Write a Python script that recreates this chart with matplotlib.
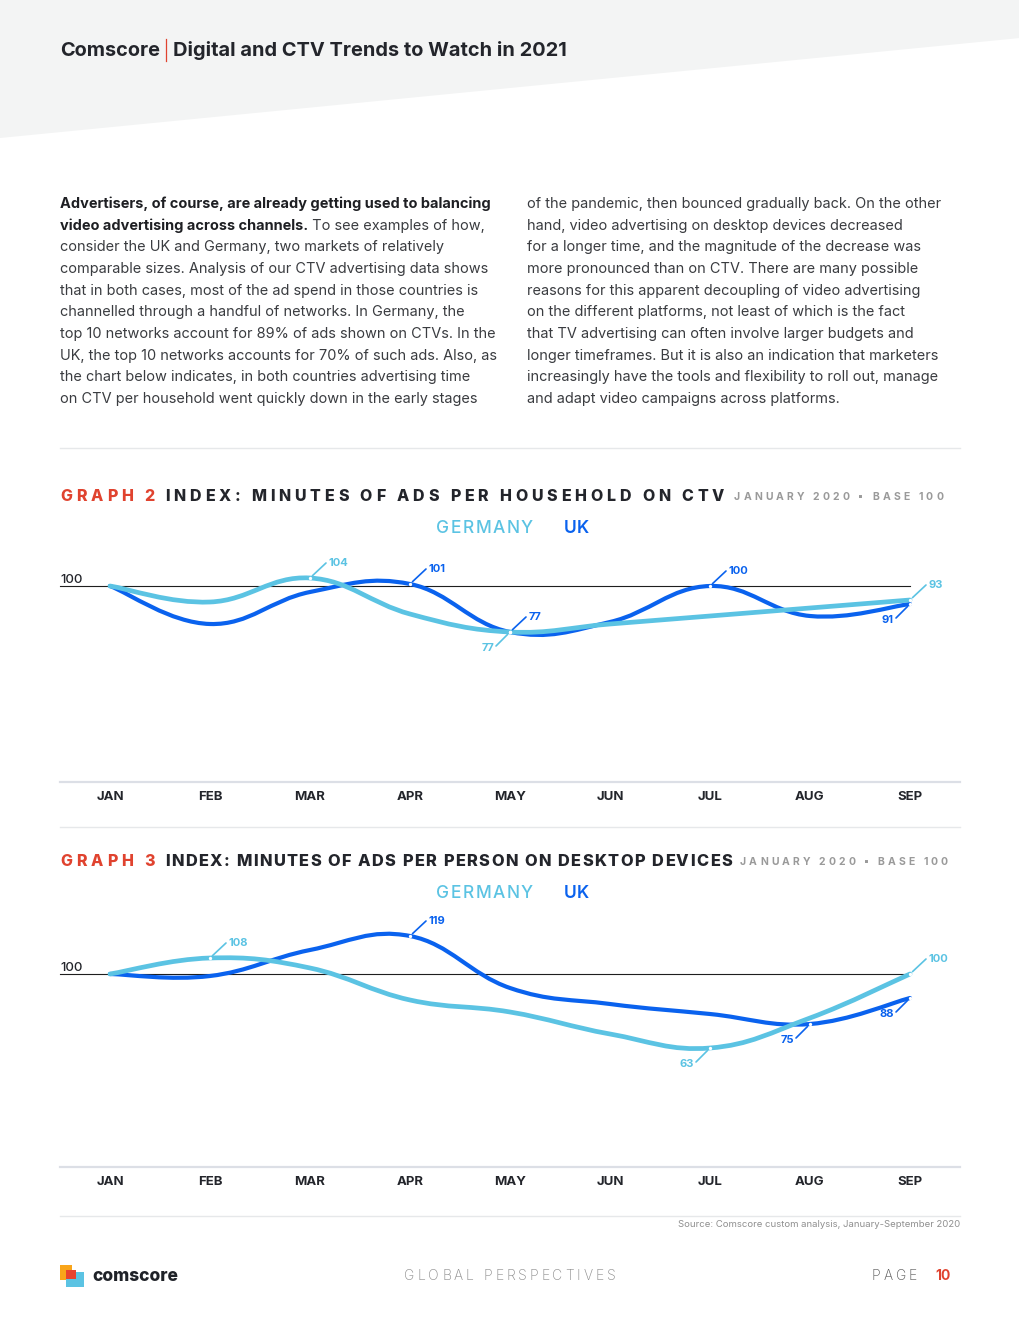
import matplotlib
matplotlib.use("Agg")
import matplotlib.pyplot as plt
from matplotlib.path import Path
from matplotlib.patches import PathPatch, Polygon, Rectangle
from matplotlib.lines import Line2D
import numpy as np

# ---------------- data ----------------
months = ["JAN", "FEB", "MAR", "APR", "MAY", "JUN", "JUL", "AUG", "SEP"]
ctv_germany = [100, 92, 104, 86, 77, 81, 85, 89, 93]
ctv_uk = [100, 81, 97, 101, 77, 82, 100, 85, 91]
desk_germany = [100, 108, 103, 87, 81, 70, 63, 78, 100]
desk_uk = [100, 99, 112, 119, 93, 85, 80, 75, 88]
# labelled points (month index, label side)
ctv_germany_labels = [(2, "up"), (4, "down"), (8, "up")]
ctv_uk_labels = [(3, "up"), (4, "up"), (6, "up"), (8, "down")]
desk_germany_labels = [(1, "up"), (6, "down"), (8, "up")]
desk_uk_labels = [(3, "up"), (7, "down"), (8, "down")]

left_col = [
    "Advertisers, of course, are already getting used to balancing",
    None,
    "consider the UK and Germany, two markets of relatively",
    "comparable sizes. Analysis of our CTV advertising data shows",
    "that in both cases, most of the ad spend in those countries is",
    "channelled through a handful of networks. In Germany, the",
    "top 10 networks account for 89% of ads shown on CTVs. In the",
    "UK, the top 10 networks accounts for 70% of such ads. Also, as",
    "the chart below indicates, in both countries advertising time",
    "on CTV per household went quickly down in the early stages",
]
left_line2_bold = "video advertising across channels."
left_line2_reg = " To see examples of how,"
right_col = [
    "of the pandemic, then bounced gradually back. On the other",
    "hand, video advertising on desktop devices decreased",
    "for a longer time, and the magnitude of the decrease was",
    "more pronounced than on CTV. There are many possible",
    "reasons for this apparent decoupling of video advertising",
    "on the different platforms, not least of which is the fact",
    "that TV advertising can often involve larger budgets and",
    "longer timeframes. But it is also an indication that marketers",
    "increasingly have the tools and flexibility to roll out, manage",
    "and adapt video campaigns across platforms.",
]

# ---------------- style ----------------
GER = "#5BC3E3"
UKC = "#0A62EE"
RED = "#E0432F"
DARK = "#23252B"
BODY = "#3A3C40"
GRAY = "#9A9A9A"
FONT = ["Inter", "DejaVu Sans"]

W, H = 1020, 1320
fig = plt.figure(figsize=(W / 100, H / 100), dpi=100)
fig.patch.set_facecolor("white")
R = fig.canvas.get_renderer()
PT = 0.72  # points per pixel at 100 dpi


def fx(x):
    return x / W


def fy(y):
    return 1 - y / H


def text_w(s, **kw):
    t = fig.text(0, 0, s, **kw)
    w = t.get_window_extent(R).width
    t.remove()
    return w


def put(x, y, s, ha="left", **kw):
    kw.setdefault("family", FONT)
    return fig.text(fx(x), fy(y), s, ha=ha, va="baseline", **kw)


def fit_size(s, target, size0=10, **kw):
    kw.setdefault("family", FONT)
    return size0 * target / text_w(s, fontsize=size0, **kw)


def spaced(x, y, s, width=None, track=0.0, ha="left", **kw):
    kw.setdefault("family", FONT)
    base = text_w("HH", **kw)
    advs = [text_w("H" + c + "H", **kw) - base for c in s]
    last = text_w(s[-1], **kw)
    nat = sum(advs[:-1]) + last
    if width is not None and len(s) > 1:
        track = (width - nat) / (len(s) - 1)
    total = nat + track * (len(s) - 1)
    if ha == "center":
        x -= total / 2
    elif ha == "right":
        x -= total
    cx = x
    for c, a in zip(s, advs):
        if c != " ":
            put(cx, y, c, **kw)
        cx += a + track
    return x + total


def hline(y, x0, x1, color, lw):
    fig.add_artist(Line2D([fx(x0), fx(x1)], [fy(y), fy(y)], color=color, lw=lw,
                          transform=fig.transFigure))


# ---------------- header banner ----------------
fig.add_artist(Polygon([[0, 1], [1, 1], [1, fy(38)], [0, fy(138)]], closed=True,
                       facecolor="#F3F4F4", edgecolor="none", transform=fig.transFigure,
                       zorder=0))
hs = fit_size("Digital and CTV Trends to Watch in 2021", 393, weight="bold")
put(60, 56, "Comscore", fontsize=hs, weight="bold", color=DARK)
xe = 60 + text_w("Comscore", fontsize=hs, weight="bold", family=FONT)
fig.add_artist(Line2D([fx(xe + 6), fx(xe + 6)], [fy(39), fy(61)], color=RED, lw=0.9,
                      transform=fig.transFigure))
put(xe + 13, 56, "Digital and CTV Trends to Watch in 2021", fontsize=hs, weight="bold",
    color=DARK)

# ---------------- body text ----------------
bs = fit_size("comparable sizes. Analysis of our CTV advertising data shows", 430)
y0, dy = 208, 21.67
for k, line in enumerate(left_col):
    y = y0 + k * dy
    if k == 0:
        put(60, y, line, fontsize=bs, weight="bold", color="#1E1F23")
    elif k == 1:
        put(60, y, left_line2_bold, fontsize=bs, weight="bold", color="#1E1F23")
        wb = text_w(left_line2_bold, fontsize=bs, weight="bold", family=FONT)
        put(60 + wb, y, left_line2_reg, fontsize=bs, color=BODY)
    else:
        put(60, y, line, fontsize=bs, color=BODY)
for k, line in enumerate(right_col):
    put(527, y0 + k * dy, line, fontsize=bs, color=BODY)

hline(448, 60, 960, "#E6E8EA", 1.0)
hline(827, 60, 960, "#E6E8EA", 1.0)
hline(1216, 60, 960, "#E6E8EA", 1.0)

# ---------------- graph titles ----------------
TS = 11.5
spaced(60, 501, "GRAPH 2", width=95, fontsize=TS, weight="heavy", color=RED)
spaced(165, 501, "INDEX: MINUTES OF ADS PER HOUSEHOLD ON CTV", width=559, fontsize=TS,
       weight="heavy", color=DARK)
spaced(734, 500, "JANUARY 2020 \u25aa BASE 100", width=209, fontsize=7.5, weight="bold",
       color=GRAY)
spaced(60, 866, "GRAPH 3", width=95, fontsize=TS, weight="heavy", color=RED)
spaced(165, 866, "INDEX: MINUTES OF ADS PER PERSON ON DESKTOP DEVICES", width=567,
       fontsize=TS + 0.3, weight="heavy", color=DARK)
spaced(740, 865, "JANUARY 2020 \u25aa BASE 100", width=208, fontsize=7.5, weight="bold",
       color=GRAY)

for ly in (533, 898):
    spaced(436, ly, "GERMANY", width=97, fontsize=12.5, weight="medium", color=GER)
    spaced(564, ly, "UK", width=25, fontsize=12.5, weight="semibold", color=UKC)


# ---------------- charts ----------------
def smooth_path(xs, ys, t=0.2):
    pts = np.column_stack([xs, ys]).astype(float)
    n = len(pts)
    verts = [pts[0]]
    codes = [Path.MOVETO]
    for i in range(n - 1):
        p0 = pts[max(i - 1, 0)]
        p1 = pts[i]
        p2 = pts[i + 1]
        p3 = pts[min(i + 2, n - 1)]
        verts += [p1 + (p2 - p0) * t, p2 - (p3 - p1) * t, p2]
        codes += [Path.CURVE4] * 3
    return Path(verts, codes)


def draw_series(ax, vals, color, lw, z):
    xs = np.arange(len(vals))
    ax.add_patch(PathPatch(smooth_path(xs, vals), facecolor="none", edgecolor=color,
                           lw=lw, capstyle="round", joinstyle="round", zorder=z))


def label_points(ax, vals, labels, color):
    for i, side in labels:
        v = vals[i]
        if side == "up":
            lstart, lend = (2, 2), (16, 15)
            toff, ha = (19, 12), "left"
        else:
            lstart, lend = (-2, -2), (-14, -14)
            toff, ha = (-16, -19), "right"
        ax.annotate("", xy=(i, v), xytext=(lend[0] * PT, lend[1] * PT),
                    textcoords="offset points", annotation_clip=False, zorder=6,
                    arrowprops=dict(arrowstyle="-", color=color, lw=1.2, shrinkA=0,
                                    shrinkB=2.5))
        ax.annotate(str(v), xy=(i, v), xytext=(toff[0] * PT, toff[1] * PT),
                    textcoords="offset points", ha=ha, va="baseline", fontsize=8,
                    weight="bold", color=color, family=FONT, annotation_clip=False,
                    zorder=6)
        ax.plot([i], [v], "o", ms=2.4, mfc="white", mec="none", zorder=7, clip_on=False)


def setup(ax, ylim):
    ax.set_xlim(-0.5, 8.5)
    ax.set_ylim(*ylim)
    ax.patch.set_alpha(0)
    for s in ("top", "left", "right"):
        ax.spines[s].set_visible(False)
    ax.spines["bottom"].set_color("#DCDFE6")
    ax.spines["bottom"].set_linewidth(1.6)
    ax.set_yticks([])
    ax.set_xticks(range(len(months)))
    ax.set_xticklabels(months, fontsize=9.5, weight="bold", color=DARK, family=FONT)
    ax.tick_params(axis="x", length=0, pad=6.5)
    ax.plot([-0.5, 8], [100, 100], color="#1E1E1E", lw=0.8, zorder=1, clip_on=False)
    ax.annotate("100", xy=(-0.5, 100), xytext=(0, 2.0), textcoords="offset points",
                ha="left", va="baseline", fontsize=9.5, weight="medium", color=DARK,
                family=FONT, annotation_clip=False)


ax2 = fig.add_axes([fx(60), fy(782), 900 / W, (782 - 555) / H])
setup(ax2, (2, 115.5))
draw_series(ax2, ctv_uk, UKC, 3.0, 3)
draw_series(ax2, ctv_germany, GER, 3.4, 4)
label_points(ax2, ctv_germany, ctv_germany_labels, GER)
label_points(ax2, ctv_uk, ctv_uk_labels, UKC)

ax3 = fig.add_axes([fx(60), fy(1167), 900 / W, (1167 - 905) / H])
setup(ax3, (3.5, 134.5))
draw_series(ax3, desk_uk, UKC, 3.0, 3)
draw_series(ax3, desk_germany, GER, 3.4, 4)
label_points(ax3, desk_germany, desk_germany_labels, GER)
label_points(ax3, desk_uk, desk_uk_labels, UKC)

# ---------------- footer ----------------
src = "Source: Comscore custom analysis, January-September 2020"
put(960, 1227, src, ha="right", fontsize=fit_size(src, 283), color="#8F8F8F")


def frect(x, y, w, h, c):
    fig.add_artist(Rectangle((fx(x), fy(y + h)), w / W, h / H, facecolor=c,
                             edgecolor="none", transform=fig.transFigure))


frect(60, 1265, 12, 15, "#F9A51A")
frect(66, 1272, 18, 15, GER)
frect(66, 1270, 10, 9, "#E8432F")
put(92, 1281, "comscore", fontsize=fit_size("comscore", 86, weight="heavy"),
    weight="heavy", color="#1F2228")
spaced(510, 1280, "GLOBAL PERSPECTIVES", width=211, ha="center", fontsize=10,
       weight="light", color="#8C8C8C")
spaced(872, 1280, "PAGE", width=45, fontsize=10, weight="light", color="#555555")
put(935, 1280, "10", fontsize=10, weight="bold", color=RED)

fig.savefig("out.png", dpi=100, facecolor="white")
